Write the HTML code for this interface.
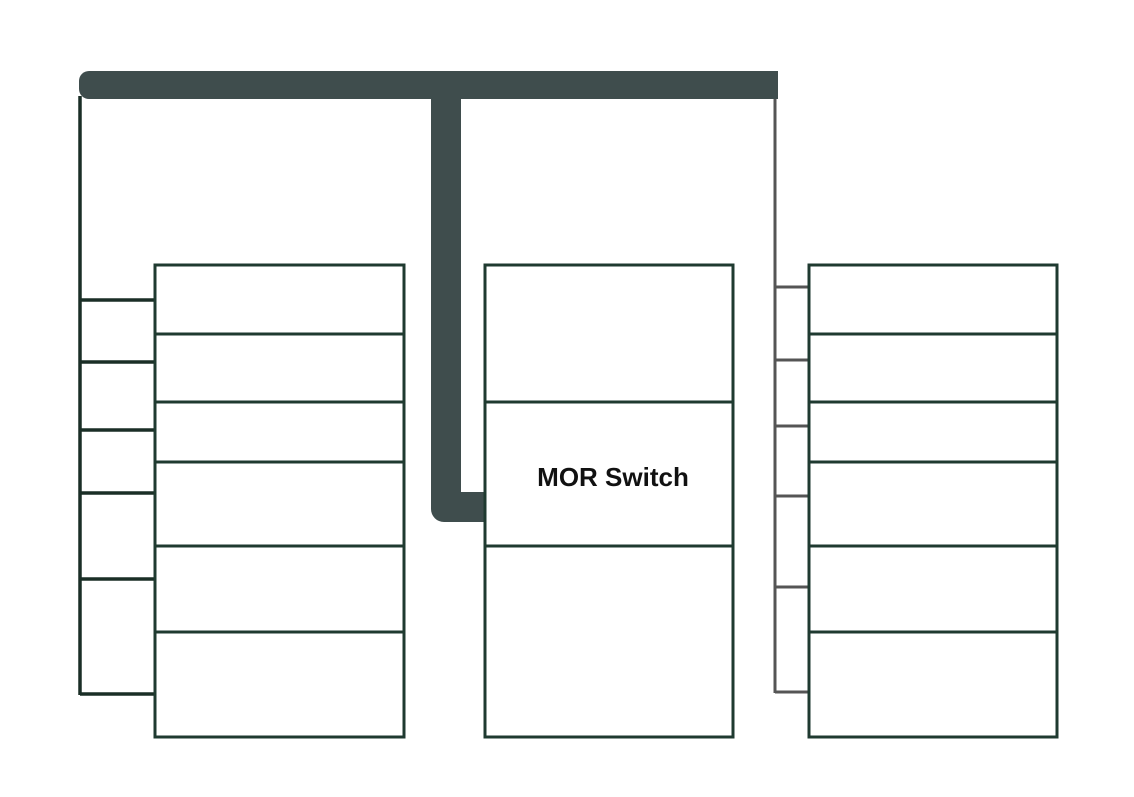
<!DOCTYPE html>
<html><head><meta charset="utf-8"><style>
html,body{margin:0;padding:0;background:#fff;}
svg{display:block;}
</style></head><body>
<svg width="1134" height="797" viewBox="0 0 1134 797" xmlns="http://www.w3.org/2000/svg">
<rect width="1134" height="797" fill="#fff"/>
<!-- top bar -->
<path d="M89,71 H778 V99 H89 A10,10 0 0 1 79,89 V81 A10,10 0 0 1 89,71 Z" fill="#3f4d4d"/>
<!-- thick vertical -->
<path d="M431,99 H461 V492 H485 V522 H444 A13,13 0 0 1 431,509 Z" fill="#3f4d4d"/>
<!-- left line -->
<g stroke="#1a2e26" stroke-width="3.5" fill="none">
<line x1="80" y1="96" x2="80" y2="695"/>
<line x1="80" y1="300" x2="154" y2="300"/>
<line x1="80" y1="362" x2="154" y2="362"/>
<line x1="80" y1="430" x2="154" y2="430"/>
<line x1="80" y1="493" x2="154" y2="493"/>
<line x1="80" y1="579" x2="154" y2="579"/>
<line x1="80" y1="694" x2="154" y2="694"/>
</g>
<!-- right thin grey line -->
<g stroke="#555" stroke-width="3" fill="none">
<line x1="775" y1="99" x2="775" y2="693"/>
<line x1="775" y1="287" x2="808" y2="287"/>
<line x1="775" y1="360" x2="808" y2="360"/>
<line x1="775" y1="426" x2="808" y2="426"/>
<line x1="775" y1="496" x2="808" y2="496"/>
<line x1="775" y1="587" x2="808" y2="587"/>
<line x1="775" y1="692" x2="808" y2="692"/>
</g>
<!-- racks -->
<g stroke="#1f3a30" stroke-width="3" fill="none">
<rect x="155" y="265" width="249" height="472"/>
<line x1="155" y1="334" x2="404" y2="334"/>
<line x1="155" y1="402" x2="404" y2="402"/>
<line x1="155" y1="462" x2="404" y2="462"/>
<line x1="155" y1="546" x2="404" y2="546"/>
<line x1="155" y1="632" x2="404" y2="632"/>
<rect x="485" y="265" width="248" height="472"/>
<line x1="485" y1="402" x2="733" y2="402"/>
<line x1="485" y1="546" x2="733" y2="546"/>
<rect x="809" y="265" width="248" height="472"/>
<line x1="809" y1="334" x2="1057" y2="334"/>
<line x1="809" y1="402" x2="1057" y2="402"/>
<line x1="809" y1="462" x2="1057" y2="462"/>
<line x1="809" y1="546" x2="1057" y2="546"/>
<line x1="809" y1="632" x2="1057" y2="632"/>
</g>
<text x="613" y="486" text-anchor="middle" font-family="Liberation Sans, sans-serif" font-weight="bold" font-size="26" fill="#111">MOR Switch</text>
</svg>
</body></html>
